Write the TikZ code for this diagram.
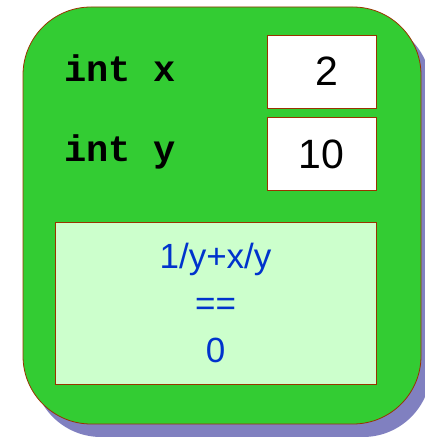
\documentclass[tikz,border=0pt]{standalone}
\usepackage{fontspec}
\setmainfont{Liberation Sans}
\setmonofont{Liberation Mono}
\usepackage{tikz}
\usetikzlibrary{positioning,shadows}
\usepackage{xcolor}
\definecolor{leaf}{HTML}{33CC33}
\definecolor{rust}{HTML}{993300}
\definecolor{slate}{HTML}{8080C0}
\definecolor{mint}{HTML}{CCFFCC}
\definecolor{ink}{HTML}{0033CC}
\tikzset{
  frame/.style={draw=rust,thick,fill=leaf,rounded corners=68pt,minimum width=398pt,minimum height=417pt,
    drop shadow={shadow xshift=10pt,shadow yshift=-13pt,fill=slate,opacity=1}},
  cell/.style={draw=rust,thick,fill=white,minimum width=109pt,minimum height=73pt,inner sep=0pt,font=\fontsize{41}{41}\selectfont},
  decl/.style={inner sep=0pt,font=\ttfamily\bfseries\fontsize{37}{37}\selectfont},
  expr/.style={draw=rust,thick,fill=mint,minimum width=321pt,minimum height=162pt,align=center,text=ink,
    font=\fontsize{35}{47}\selectfont}
}
\begin{document}
\begin{tikzpicture}[x=1pt,y=1pt]
        \useasboundingbox (0,0) rectangle (425,437);
        \node[frame] (scope) at (222,221.5) {};
        \node[cell] (xval) at (321.5,365.5) {\hspace{10pt}2};
        \node[cell,below=9pt of xval] (yval) {10};
        \node[decl,anchor=base west] (xdecl) at (64,355) {int x};
        \node[decl,anchor=base west] (ydecl) at (64,275) {int y};
        \node[expr] (test) at (215.5,134) {1/y+x/y\\==\\0};
      \end{tikzpicture}
\end{document}
